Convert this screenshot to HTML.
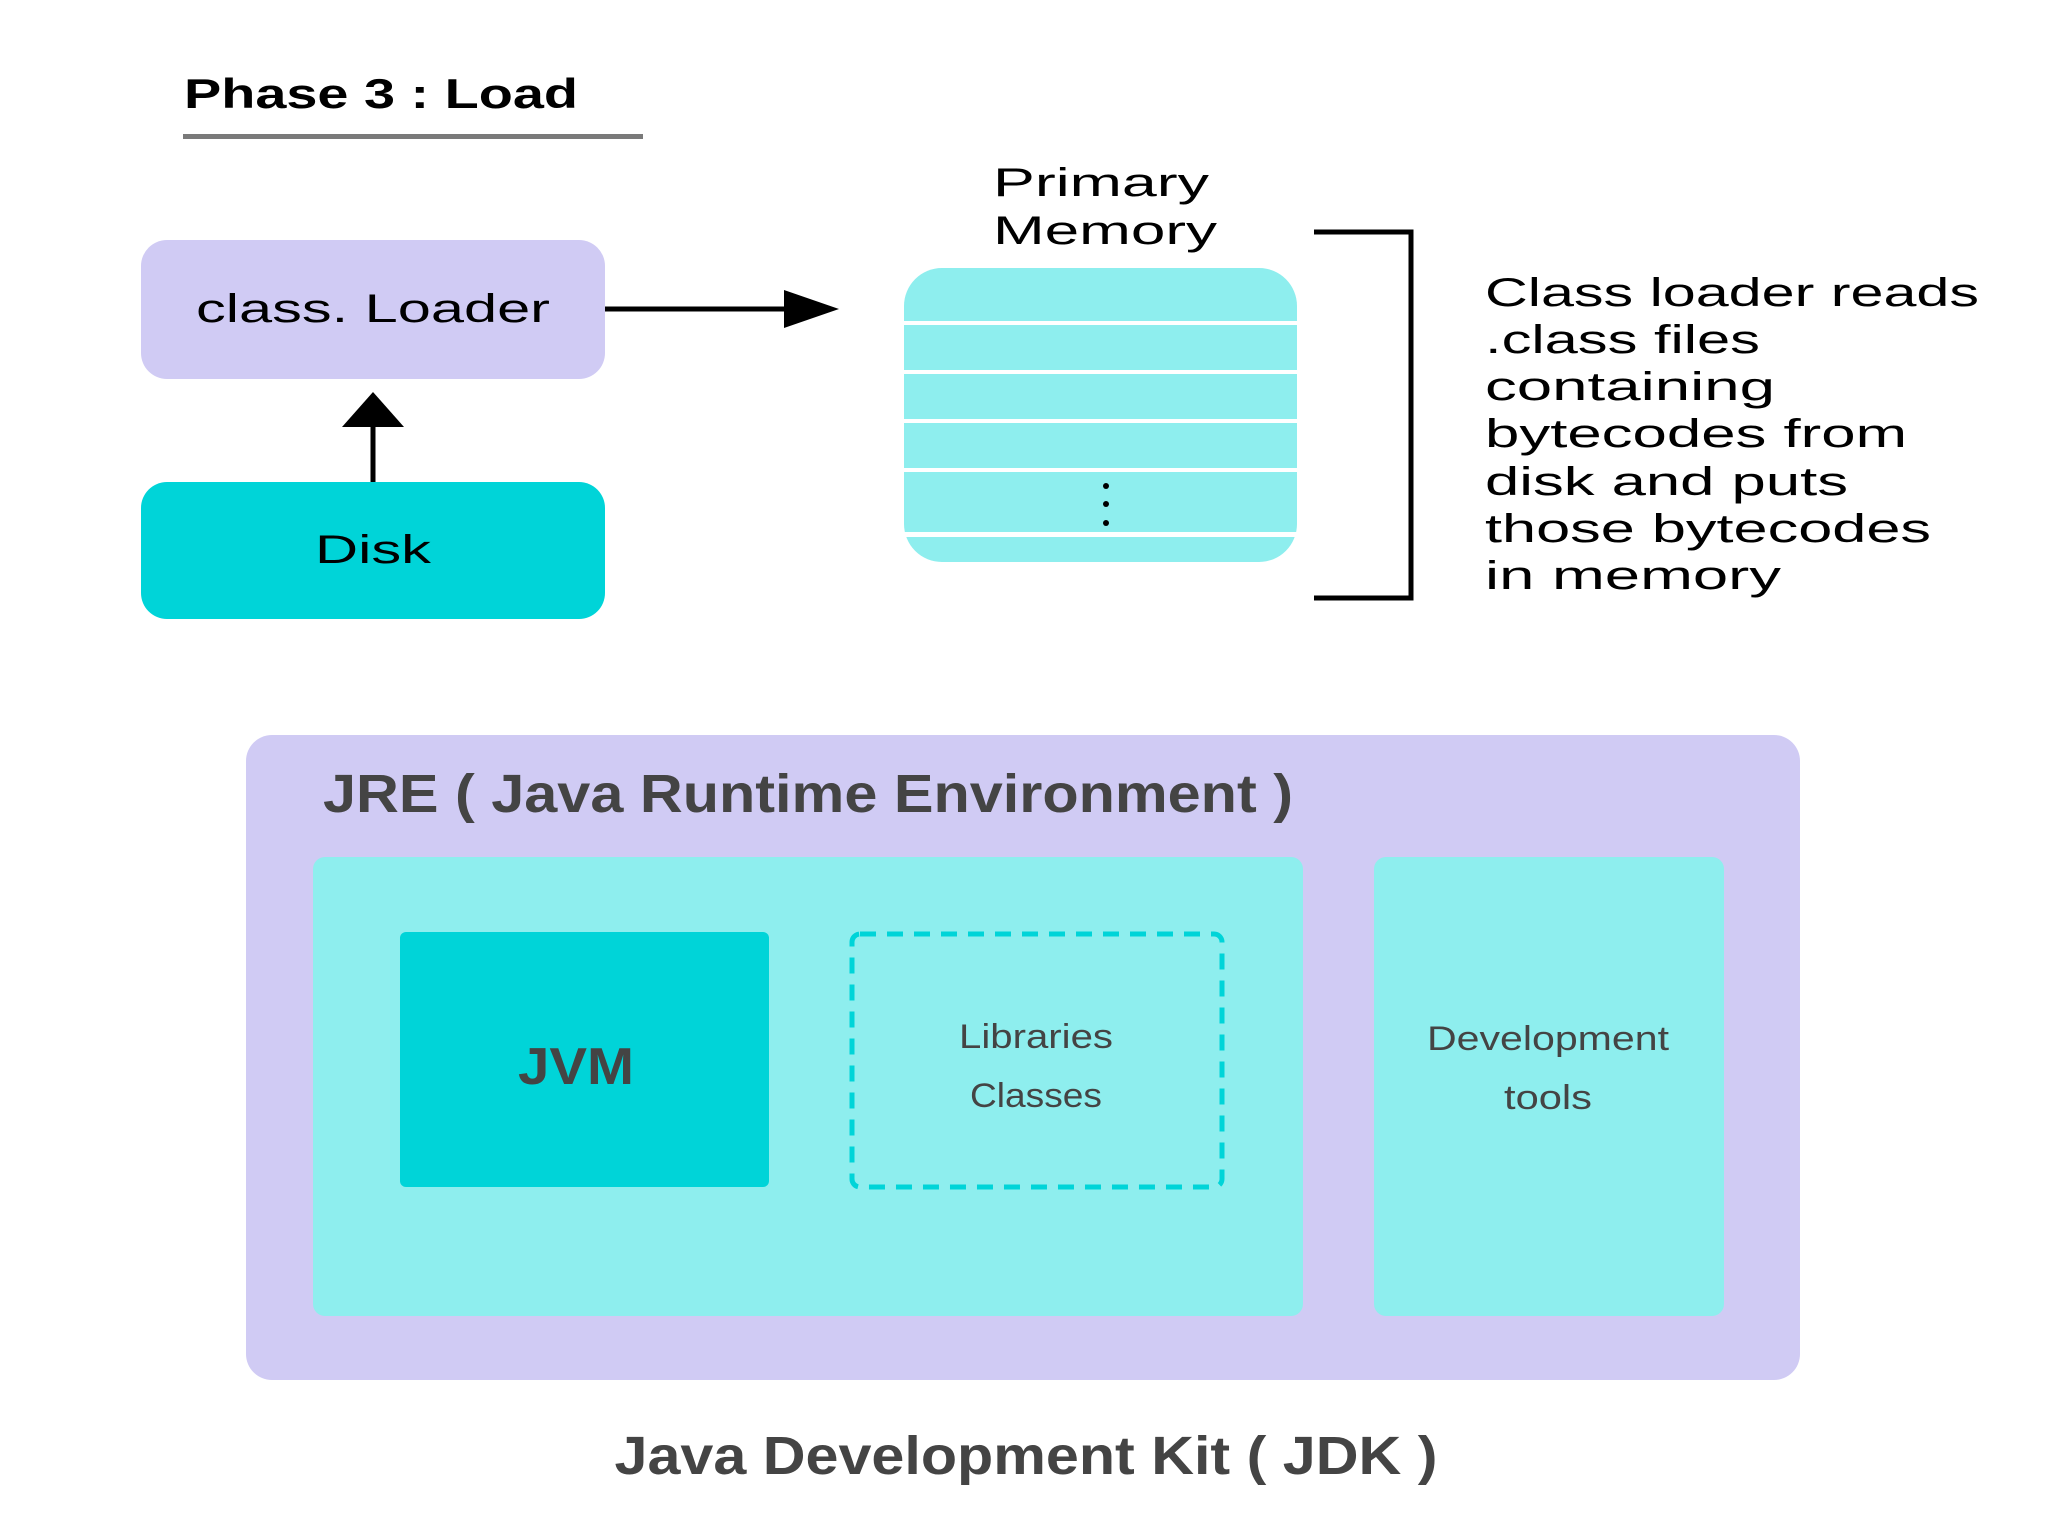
<!DOCTYPE html>
<html><head><meta charset="utf-8"><style>html,body{margin:0;padding:0;background:#fff}svg{display:block}</style></head>
<body>
<svg width="2048" height="1536" viewBox="0 0 2048 1536" xmlns="http://www.w3.org/2000/svg" font-family="Liberation Sans, sans-serif">
<rect width="2048" height="1536" fill="#fff"/>
<text x="184" y="108" font-size="42" font-weight="bold" fill="#000" textLength="394" lengthAdjust="spacingAndGlyphs">Phase 3 : Load</text>
<rect x="183" y="134" width="460" height="5" fill="#7a7a7a"/>
<rect x="141" y="240" width="464" height="139" rx="26" fill="#d0cbf4"/>
<text x="373" y="322" font-size="40" text-anchor="middle" fill="#000" textLength="354" lengthAdjust="spacingAndGlyphs">class. Loader</text>
<line x1="605" y1="309" x2="790" y2="309" stroke="#000" stroke-width="5"/>
<polygon points="784,290 839,309 784,328" fill="#000"/>
<rect x="141" y="482" width="464" height="137" rx="26" fill="#00d4d8"/>
<text x="373" y="563" font-size="40" text-anchor="middle" fill="#000" textLength="116" lengthAdjust="spacingAndGlyphs">Disk</text>
<line x1="373" y1="482" x2="373" y2="420" stroke="#000" stroke-width="5"/>
<polygon points="342,427 373,392 404,427" fill="#000"/>
<text x="993" y="196" font-size="40" fill="#000" textLength="216" lengthAdjust="spacingAndGlyphs">Primary</text>
<text x="993" y="244" font-size="40" fill="#000" textLength="224" lengthAdjust="spacingAndGlyphs">Memory</text>
<rect x="904" y="268" width="393" height="294" rx="38" fill="#8eeeee"/>
<g fill="#fff"><rect x="904" y="321" width="393" height="4"/><rect x="904" y="370" width="393" height="4"/><rect x="904" y="419" width="393" height="4"/><rect x="904" y="468" width="393" height="4"/><rect x="904" y="532" width="393" height="5"/></g>
<g fill="#000"><circle cx="1106" cy="486" r="3"/><circle cx="1106" cy="504" r="3"/><circle cx="1106" cy="523" r="3"/></g>
<polyline points="1314,232 1411,232 1411,598 1314,598" fill="none" stroke="#000" stroke-width="5"/>
<g font-size="40" fill="#000">
<text x="1485" y="306" textLength="494" lengthAdjust="spacingAndGlyphs">Class loader reads</text>
<text x="1485" y="353" textLength="275" lengthAdjust="spacingAndGlyphs">.class files</text>
<text x="1485" y="400" textLength="290" lengthAdjust="spacingAndGlyphs">containing</text>
<text x="1485" y="447" textLength="422" lengthAdjust="spacingAndGlyphs">bytecodes from</text>
<text x="1485" y="495" textLength="363" lengthAdjust="spacingAndGlyphs">disk and puts</text>
<text x="1485" y="542" textLength="446" lengthAdjust="spacingAndGlyphs">those bytecodes</text>
<text x="1485" y="589" textLength="296" lengthAdjust="spacingAndGlyphs">in memory</text>
</g>
<rect x="246" y="735" width="1554" height="645" rx="26" fill="#d0cbf4"/>
<text x="323" y="812" font-size="54" font-weight="bold" fill="#444" textLength="970" lengthAdjust="spacingAndGlyphs">JRE ( Java Runtime Environment )</text>
<rect x="313" y="857" width="990" height="459" rx="12" fill="#8eeeee"/>
<rect x="1374" y="857" width="350" height="459" rx="12" fill="#8eeeee"/>
<rect x="400" y="932" width="369" height="255" rx="6" fill="#00d4d8"/>
<text x="576" y="1084" font-size="52" font-weight="bold" fill="#444" text-anchor="middle" textLength="116" lengthAdjust="spacingAndGlyphs">JVM</text>
<rect x="852" y="934" width="370" height="253" rx="8" fill="none" stroke="#00d4d8" stroke-width="5" stroke-dasharray="16,11"/>
<g font-size="34" fill="#444" text-anchor="middle">
<text x="1036" y="1048" textLength="154" lengthAdjust="spacingAndGlyphs">Libraries</text>
<text x="1036" y="1107" textLength="132" lengthAdjust="spacingAndGlyphs">Classes</text>
<text x="1548" y="1050" textLength="242" lengthAdjust="spacingAndGlyphs">Development</text>
<text x="1548" y="1109" textLength="88" lengthAdjust="spacingAndGlyphs">tools</text>
</g>
<text x="1026" y="1474" font-size="54" font-weight="bold" fill="#444" text-anchor="middle" textLength="823" lengthAdjust="spacingAndGlyphs">Java Development Kit ( JDK )</text>
</svg>
</body></html>
